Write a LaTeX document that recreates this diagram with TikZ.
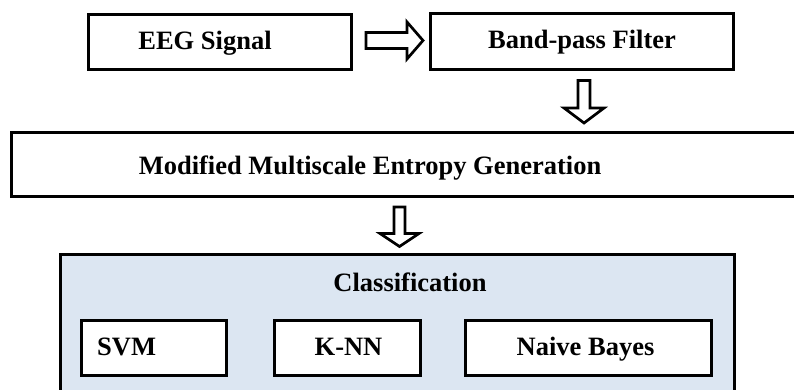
\documentclass[tikz,border=0pt]{standalone}
\usepackage{fontspec}
\setmainfont{Liberation Serif}
\usetikzlibrary{calc}
\definecolor{clsblue}{RGB}{220,230,242}
\tikzset{
  box/.style={draw=black, line width=3pt, fill=white, inner sep=0pt},
  txt/.style={font=\fontsize{26.5}{30}\selectfont\bfseries, inner sep=0pt, anchor=base},
  blockarrow/.style={draw=black, line width=2.7pt, fill=white, line join=miter}
}
\begin{document}
\begin{tikzpicture}[x=1pt,y=-1pt]
\useasboundingbox (0,0) rectangle (794,389);
\clip (0,0) rectangle (794,389);
% boxes
\node[box, minimum width=263, minimum height=55] (eeg) at (220,41.5) {};
\node[box, minimum width=303, minimum height=56] (bpf) at (582,41) {};
\node[box, minimum width=800, minimum height=64] (mse) at (411.5,164.5) {};
\node[box, fill=clsblue, minimum width=674, minimum height=160] (cls) at (397.5,334) {};
\node[box, minimum width=145, minimum height=55] (svm) at (154,348) {};
\node[box, minimum width=146, minimum height=55] (knn) at (347.5,348) {};
\node[box, minimum width=246, minimum height=55] (nb) at (588.5,348) {};
% texts
\node[txt] (eegt) at ($(eeg.center)+(-15,7.5)$) {EEG Signal};
\node[txt] (bpft) at ($(bpf.center)+(0,7)$) {Band-pass Filter};
\node[txt] (mset) at (370,174) {Modified Multiscale Entropy Generation};
\node[txt] (clst) at (410,291) {Classification};
\node[txt, anchor=base west] (svmt) at (97,355) {SVM};
\node[txt] (knnt) at ($(knn.center)+(1,7)$) {K-NN};
\node[txt] (nbt) at ($(nb.center)+(-3,7)$) {Naive Bayes};
% arrow right
\coordinate (a1s) at ($(eeg.east)+(13,-1)$);
\coordinate (a1t) at ($(bpf.west)+(-6,-0.5)$);
\draw[blockarrow] ($(a1s)+(0,-8)$) -- ($(a1t)+(-16,-8)$) -- ($(a1t)+(-16,-18.5)$) -- (a1t)
  -- ($(a1t)+(-16,18.5)$) -- ($(a1t)+(-16,8)$) -- ($(a1s)+(0,8)$) -- cycle;
% arrow down 1
\coordinate (a2s) at ($(bpf.south)+(2,10)$);
\coordinate (a2t) at ($(mse.north)+(172.5,-8)$);
\draw[blockarrow] ($(a2s)+(-6,0)$) -- ($(a2t)+(-6,-15)$) -- ($(a2t)+(-20,-15)$) -- (a2t)
  -- ($(a2t)+(20,-15)$) -- ($(a2t)+(6,-15)$) -- ($(a2s)+(6,0)$) -- cycle;
% arrow down 2
\coordinate (a3s) at ($(mse.south)+(-12,9)$);
\coordinate (a3t) at ($(cls.north)+(2,-6)$);
\draw[blockarrow] ($(a3s)+(-5.5,0)$) -- ($(a3t)+(-5.5,-13)$) -- ($(a3t)+(-19.5,-13)$) -- (a3t)
  -- ($(a3t)+(19.5,-13)$) -- ($(a3t)+(5.5,-13)$) -- ($(a3s)+(5.5,0)$) -- cycle;
\end{tikzpicture}
\end{document}
